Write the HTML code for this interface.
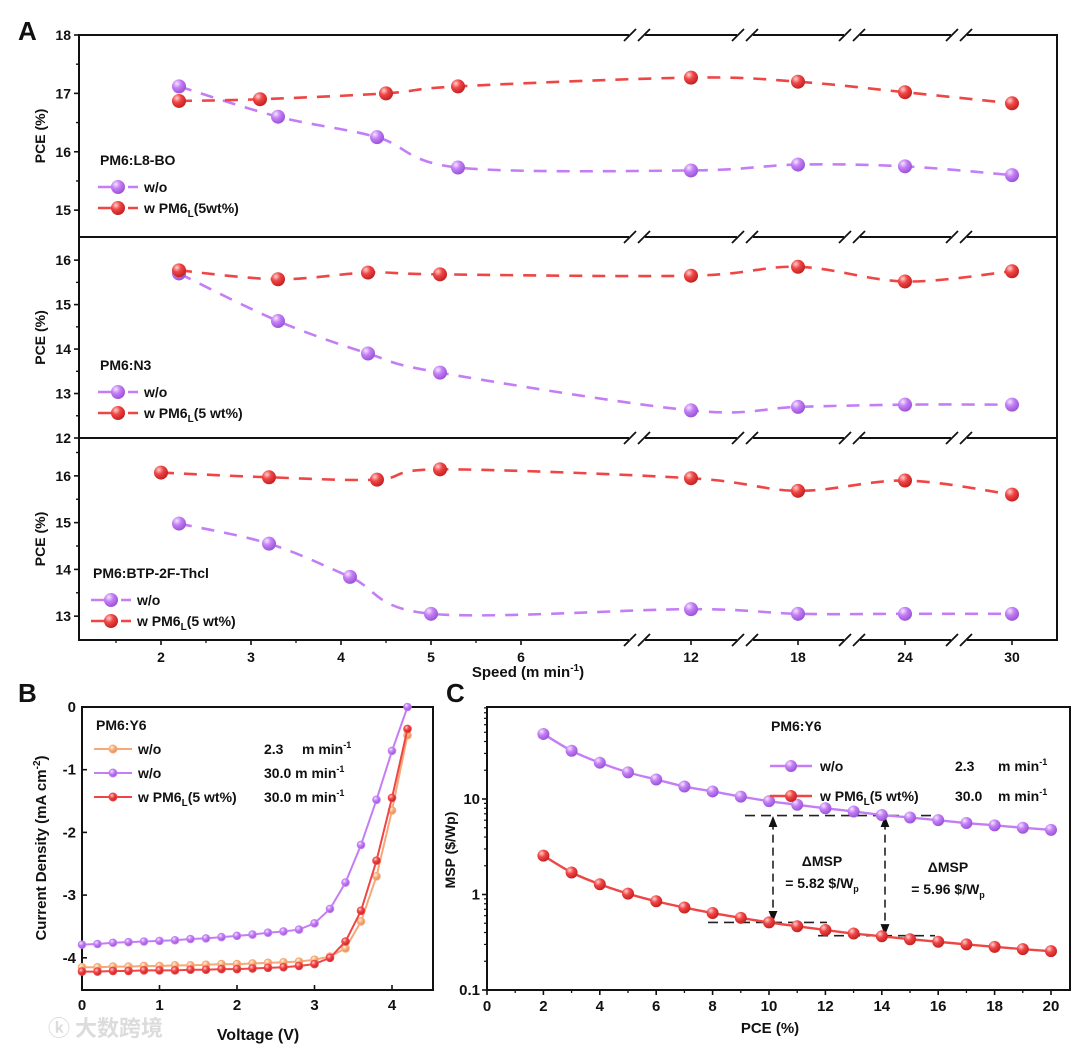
<!DOCTYPE html>
<html><head><meta charset="utf-8"><style>
html,body{margin:0;padding:0;background:#fff}
svg{display:block}
text{font-family:"Liberation Sans",Arial,sans-serif;font-weight:bold;fill:#111}
</style></head><body>
<svg id="fig" width="1080" height="1049" viewBox="0 0 1080 1049" xmlns="http://www.w3.org/2000/svg">
<defs>
<radialGradient id="gP" cx="0.35" cy="0.3" r="0.7"><stop offset="0" stop-color="#f4e6ff"/><stop offset="0.45" stop-color="#c47ef5"/><stop offset="1" stop-color="#9a55d8"/></radialGradient>
<radialGradient id="gR" cx="0.35" cy="0.3" r="0.7"><stop offset="0" stop-color="#ffd0d0"/><stop offset="0.45" stop-color="#f04545"/><stop offset="1" stop-color="#c42222"/></radialGradient>
<radialGradient id="gO" cx="0.35" cy="0.3" r="0.7"><stop offset="0" stop-color="#fff0e0"/><stop offset="0.5" stop-color="#f7b07a"/><stop offset="1" stop-color="#e58a50"/></radialGradient>
<marker id="arr" viewBox="0 0 10 10" refX="5" refY="5" markerWidth="7" markerHeight="7" orient="auto-start-reverse"><path d="M0,1 L10,5 L0,9 z" fill="#111"/></marker>
</defs>

<text x="18" y="40" font-size="26">A</text>
<text x="18" y="702" font-size="26">B</text>
<text x="446" y="702" font-size="26">C</text>

<g id="pa"></g>
<g id="pb"></g>
<g id="pc"></g>

<text x="528" y="677" font-size="15" text-anchor="middle">Speed (m min<tspan dy="-6" font-size="10">-1</tspan><tspan dy="6">)</tspan></text>
<text x="258" y="1040" font-size="16" text-anchor="middle">Voltage (V)</text>
<text x="770" y="1033" font-size="15" text-anchor="middle">PCE (%)</text>
<text transform="translate(46,848) rotate(-90)" font-size="15" text-anchor="middle">Current Density (mA cm<tspan dy="-6" font-size="10">-2</tspan><tspan dy="6">)</tspan></text>
<text transform="translate(455,850) rotate(-90)" font-size="14" text-anchor="middle">MSP ($/Wp)</text>
<text x="48" y="1036" font-size="22" fill="#ddd" style="fill:#dcdcdc;font-family:'Noto Sans CJK SC',sans-serif">ⓚ 大数跨境</text>
</svg>
<script>
// ---------- Panel A data ----------
const aX_L8_wo = [2.2,3.3,4.4,5.3,12,18,24,30];
const aY_L8_wo = [17.12,16.6,16.25,15.73,15.68,15.78,15.75,15.6];
const aX_L8_w = [2.2,3.1,4.5,5.3,12,18,24,30];
const aY_L8_w = [16.87,16.9,17.0,17.12,17.27,17.2,17.02,16.83];
const aX_N3_wo = [2.2,3.3,4.3,5.1,12,18,24,30];
const aY_N3_wo = [15.7,14.63,13.9,13.47,12.62,12.7,12.75,12.75];
const aX_N3_w = [2.2,3.3,4.3,5.1,12,18,24,30];
const aY_N3_w = [15.77,15.57,15.72,15.68,15.65,15.85,15.52,15.75];
const aX_BT_wo = [2.2,3.2,4.1,5.0,12,18,24,30];
const aY_BT_wo = [14.98,14.55,13.84,13.05,13.15,13.05,13.05,13.05];
const aX_BT_w = [2.0,3.2,4.4,5.1,12,18,24,30];
const aY_BT_w = [16.07,15.97,15.92,16.14,15.95,15.68,15.9,15.6];
const aTicksX1 = [2,3,4,5,6];
const aTicksX2 = [12,18,24,30];
// ---------- Panel B data ----------
const bV = [0,0.2,0.4,0.6,0.8,1.0,1.2,1.4,1.6,1.8,2.0,2.2,2.4,2.6,2.8,3.0,3.2,3.4,3.6,3.8,4.0,4.2];
const bJ_wo23 = [-4.15,-4.15,-4.14,-4.14,-4.13,-4.13,-4.12,-4.12,-4.11,-4.1,-4.1,-4.09,-4.08,-4.07,-4.06,-4.03,-3.98,-3.85,-3.42,-2.7,-1.65,-0.45];
const bJ_wo30 = [-3.79,-3.78,-3.76,-3.75,-3.74,-3.73,-3.72,-3.7,-3.69,-3.67,-3.65,-3.63,-3.6,-3.58,-3.55,-3.45,-3.22,-2.8,-2.2,-1.48,-0.7,0.0];
const bJ_w30 = [-4.22,-4.22,-4.21,-4.21,-4.2,-4.2,-4.2,-4.19,-4.19,-4.18,-4.18,-4.17,-4.16,-4.15,-4.13,-4.1,-4.0,-3.74,-3.25,-2.45,-1.45,-0.35];
const bTicksX = [0,1,2,3,4];
const bTicksY = [0,-1,-2,-3,-4];
// ---------- Panel C data ----------
const cPCE = [2,3,4,5,6,7,8,9,10,11,12,13,14,15,16,17,18,19,20];
const cMSP_wo = [48,32,24,19,16,13.5,12,10.6,9.5,8.7,8.0,7.4,6.8,6.4,6.0,5.6,5.3,5.0,4.75];
const cMSP_w = [2.55,1.7,1.28,1.02,0.85,0.73,0.64,0.57,0.51,0.465,0.425,0.39,0.365,0.34,0.32,0.30,0.283,0.268,0.255];
const cTicksX = [0,2,4,6,8,10,12,14,16,18,20];
const cTicksY = [0.1,1,10];

const NS="http://www.w3.org/2000/svg";
function mk(tag,attrs,parent){const e=document.createElementNS(NS,tag);for(const k in attrs)e.setAttribute(k,attrs[k]);parent.appendChild(e);return e;}
function smooth(p){if(p.length<2)return"";let d="M"+p[0][0]+","+p[0][1];for(let i=0;i<p.length-1;i++){const p0=p[i-1]||p[i],p1=p[i],p2=p[i+1],p3=p[i+2]||p2;const c1x=p1[0]+(p2[0]-p0[0])/6,c1y=p1[1]+(p2[1]-p0[1])/6,c2x=p2[0]-(p3[0]-p1[0])/6,c2y=p2[1]-(p3[1]-p1[1])/6;d+=" C"+c1x+","+c1y+" "+c2x+","+c2y+" "+p2[0]+","+p2[1];}return d;}
const PUR="#c47ef5",RED="#f04545",ORA="#f7a878";

// ================= Panel A =================
const pa=document.getElementById('pa');
const AL=79,AR=1057;
function xA(v){return v<=8?161+(v-2)*90:691+(v-12)/6*107;}
const panels=[{top:35,bot:237,min:14.54,max:18,ticks:[15,16,17,18]},{top:237,bot:438,min:12,max:16.52,ticks:[12,13,14,15,16]},{top:438,bot:640,min:12.49,max:16.81,ticks:[13,14,15,16]}];
const frame=mk('rect',{x:AL,y:35,width:AR-AL,height:605,fill:'none',stroke:'#111','stroke-width':2},pa);


[237,438].forEach(y=>{const l=mk('line',{x1:AL,x2:AR,y1:y,y2:y,stroke:'#111','stroke-width':2},pa);

});
// breaks
[35,237,438,640].forEach(y=>{[637,745,852,959].forEach(bx=>{
 const g=mk('g',{},pa);
 
 
 mk('rect',{x:bx-8,y:y-3,width:16,height:6,fill:'#fff'},g);
 mk('line',{x1:bx-13,y1:y+6,x2:bx-1,y2:y-6,stroke:'#111','stroke-width':1.8},g);
 mk('line',{x1:bx+1,y1:y+6,x2:bx+13,y2:y-6,stroke:'#111','stroke-width':1.8},g);
});});
const seriesA=[[aX_L8_wo,aY_L8_wo,aX_L8_w,aY_L8_w],[aX_N3_wo,aY_N3_wo,aX_N3_w,aY_N3_w],[aX_BT_wo,aY_BT_wo,aX_BT_w,aY_BT_w]];
panels.forEach((P,pi)=>{
 const yA=v=>P.bot-(v-P.min)/(P.max-P.min)*(P.bot-P.top);
 P.ticks.forEach(t=>{const y=yA(t);
  const tk=mk('line',{x1:AL-5,x2:AL,y1:y,y2:y,stroke:'#111','stroke-width':1.6},pa);
  
  
  const tx=mk('text',{x:AL-8,y:y+5,'font-size':14,'text-anchor':'end'},pa);tx.textContent=t;
  
  
  const ym=yA(t+0.5);if(ym>P.top+2&&ym<P.bot-2){const mt=mk('line',{x1:AL-3,x2:AL,y1:ym,y2:ym,stroke:'#111','stroke-width':1.4},pa);
  
  }
 });
 const yt=mk('text',{transform:`translate(45,${(P.top+P.bot)/2}) rotate(-90)`,'font-size':14,'text-anchor':'middle'},pa);yt.textContent='PCE (%)';
 
 
 const S=seriesA[pi];
 [[S[0],S[1],PUR,'gP','wo'],[S[2],S[3],RED,'gR','w']].forEach(([xs,ys,col,gr,nm])=>{
  const pts=xs.map((x,i)=>[xA(x),yA(ys[i])]);
  const ln=mk('path',{d:smooth(pts),fill:'none',stroke:col,'stroke-width':2.6,'stroke-dasharray':'13 10'},pa);
  
  
  pts.forEach(p=>{const c=mk('circle',{cx:p[0],cy:p[1],r:7,fill:`url(#${gr})`},pa);
   
   });
 });
});
aTicksX1.forEach(t=>{const x=xA(t);const tk=mk('line',{x1:x,x2:x,y1:640,y2:645,stroke:'#111','stroke-width':1.6},pa);
 
 
 const tx=mk('text',{x:x,y:662,'font-size':14,'text-anchor':'middle'},pa);tx.textContent=t;
 
 
 const xm=xA(t-0.5);if(xm>AL){const m=mk('line',{x1:xm,x2:xm,y1:640,y2:643,stroke:'#111','stroke-width':1.3},pa);
 
 }});
aTicksX2.forEach(t=>{const x=xA(t);const tk=mk('line',{x1:x,x2:x,y1:640,y2:645,stroke:'#111','stroke-width':1.6},pa);
 
 
 const tx=mk('text',{x:x,y:662,'font-size':14,'text-anchor':'middle'},pa);tx.textContent=t;
 
 });
// legends A
function legA(x,y,title,l1,l2,dash){
 const g=mk('g',{},pa);
 
 
 const t=mk('text',{x:x+2,y:y,'font-size':14},g);t.textContent=title;
 [[PUR,'gP',l1,y+22],[RED,'gR',l2,y+43]].forEach(([c,gr,lab,yy])=>{
  mk('line',{x1:x,x2:x+40,y1:yy,y2:yy,stroke:c,'stroke-width':2.6,'stroke-dasharray':dash},g);
  mk('circle',{cx:x+20,cy:yy,r:7,fill:`url(#${gr})`},g);
  const tt=mk('text',{x:x+46,y:yy+5,'font-size':14},g);tt.innerHTML=lab;
 });
}
legA(98,165,'PM6:L8-BO','w/o','w PM6<tspan dy="4" font-size="10">L</tspan><tspan dy="-4">(5wt%)</tspan>','14 4 8 4');
legA(98,370,'PM6:N3','w/o','w PM6<tspan dy="4" font-size="10">L</tspan><tspan dy="-4">(5 wt%)</tspan>','14 4 8 4');
legA(91,578,'PM6:BTP-2F-Thcl','w/o','w PM6<tspan dy="4" font-size="10">L</tspan><tspan dy="-4">(5 wt%)</tspan>','14 4 8 4');

// ================= Panel B =================
const pb=document.getElementById('pb');
const BL=82,BR=433,BT=707,BB=990;
const xB=v=>BL+v*77.5, yB=j=>BT-j*62.7;
const fb=mk('rect',{x:BL,y:BT,width:BR-BL,height:BB-BT,fill:'none',stroke:'#111','stroke-width':2},pb);


bTicksX.forEach(t=>{const x=xB(t);const tk=mk('line',{x1:x,x2:x,y1:BB,y2:BB-5,stroke:'#111','stroke-width':1.6},pb);
 
 
 const tx=mk('text',{x:x,y:BB+20,'font-size':15,'text-anchor':'middle'},pb);tx.textContent=t;
 
 });
bTicksY.forEach(t=>{const y=yB(t);const tk=mk('line',{x1:BL,x2:BL+5,y1:y,y2:y,stroke:'#111','stroke-width':1.6},pb);
 
 
 const tx=mk('text',{x:BL-6,y:y+5,'font-size':15,'text-anchor':'end'},pb);tx.textContent=t;
 
 });
[[bJ_wo23,ORA,'gO','wo-2.3'],[bJ_wo30,PUR,'gP','wo-30'],[bJ_w30,RED,'gR','w-30']].forEach(([js,c,gr,nm])=>{
 const pts=bV.map((v,i)=>[xB(v),yB(js[i])]);
 const ln=mk('polyline',{points:pts.map(p=>p.join(',')).join(' '),fill:'none',stroke:c,'stroke-width':2},pb);
 
 
 pts.forEach(p=>{const cc=mk('circle',{cx:p[0],cy:p[1],r:3.8,fill:`url(#${gr})`,stroke:c,'stroke-width':1},pb);
  
  });
});
(function(){
 const g=mk('g',{},pb);
 
 
 const t=mk('text',{x:96,y:730,'font-size':14},g);t.textContent='PM6:Y6';
 [[ORA,'gO','w/o','2.3','m min',749],[PUR,'gP','w/o','30.0 m min','',773],[RED,'gR','w PM6<tspan dy="4" font-size="10">L</tspan><tspan dy="-4">(5 wt%)</tspan>','30.0 m min','',797]].forEach(([c,gr,lab,sp,u,y])=>{
  mk('line',{x1:94,x2:132,y1:y,y2:y,stroke:c,'stroke-width':2},g);
  mk('circle',{cx:113,cy:y,r:4,fill:`url(#${gr})`,stroke:c},g);
  const a=mk('text',{x:138,y:y+5,'font-size':14},g);a.innerHTML=lab;
  const b=mk('text',{x:264,y:y+5,'font-size':14},g);
  b.innerHTML=u?sp+'<tspan x="302">'+u+'</tspan><tspan dy="-6" font-size="9">-1</tspan>':sp+'<tspan dy="-6" font-size="9">-1</tspan>';
 });
})();

// ================= Panel C =================
const pc=document.getElementById('pc');
const CL=487,CR=1070,CT=707,CB=990;
const xC=v=>CL+v*28.2, yC=m=>CB-(Math.log10(m)+1)*95.5;
const fc=mk('rect',{x:CL,y:CT,width:CR-CL,height:CB-CT,fill:'none',stroke:'#111','stroke-width':2},pc);


cTicksX.forEach(t=>{const x=xC(t);const tk=mk('line',{x1:x,x2:x,y1:CB,y2:CB+5,stroke:'#111','stroke-width':1.6},pc);
 
 
 const tx=mk('text',{x:x,y:CB+21,'font-size':15,'text-anchor':'middle'},pc);tx.textContent=t;
 
 
 if(t<20){const m=mk('line',{x1:xC(t+1),x2:xC(t+1),y1:CB,y2:CB+3,stroke:'#111','stroke-width':1.3},pc);
 
 }});
cTicksY.forEach(t=>{const y=yC(t);const tk=mk('line',{x1:CL-5,x2:CL,y1:y,y2:y,stroke:'#111','stroke-width':1.6},pc);
 
 
 const tx=mk('text',{x:CL-7,y:y+5,'font-size':15,'text-anchor':'end'},pc);tx.textContent=t;
 
 
 for(let k=2;k<=9;k++){const ym=yC(t*k);if(ym>CT){const m=mk('line',{x1:CL-3,x2:CL,y1:ym,y2:ym,stroke:'#111','stroke-width':1.2},pc);
 
 }}});
// annotation dashed lines
[[745,935,6.7],[708,827,0.51],[818,935,0.37]].forEach(([x1,x2,v])=>{const l=mk('line',{x1:x1,x2:x2,y1:yC(v),y2:yC(v),stroke:'#222','stroke-width':1.6,'stroke-dasharray':'10 6'},pc);
 
 });
[[773,6.7,0.51],[885,6.7,0.37]].forEach(([x,a,b])=>{const l=mk('line',{x1:x,x2:x,y1:yC(a)+6,y2:yC(b)-6,stroke:'#222','stroke-width':1.6,'stroke-dasharray':'8 5','marker-start':'url(#arr)','marker-end':'url(#arr)'},pc);
 
 });
[[cMSP_wo,PUR,'gP','wo'],[cMSP_w,RED,'gR','w']].forEach(([ms,c,gr,nm])=>{
 const pts=cPCE.map((v,i)=>[xC(v),yC(ms[i])]);
 const ln=mk('path',{d:smooth(pts),fill:'none',stroke:c,'stroke-width':2.4},pc);
 
 
 pts.forEach(p=>{const cc=mk('circle',{cx:p[0],cy:p[1],r:6,fill:`url(#${gr})`},pc);
  
  });
});
(function(){
 const g=mk('g',{},pc);
 
 
 const t=mk('text',{x:771,y:731,'font-size':14},g);t.textContent='PM6:Y6';
 [[PUR,'gP','w/o','2.3',766],[RED,'gR','w PM6<tspan dy="4" font-size="10">L</tspan><tspan dy="-4">(5 wt%)</tspan>','30.0',796]].forEach(([c,gr,lab,sp,y])=>{
  mk('line',{x1:770,x2:812,y1:y,y2:y,stroke:c,'stroke-width':2.4},g);
  mk('circle',{cx:791,cy:y,r:6,fill:`url(#${gr})`},g);
  const a=mk('text',{x:820,y:y+5,'font-size':14},g);a.innerHTML=lab;
  const b=mk('text',{x:955,y:y+5,'font-size':14},g);b.textContent=sp;
  const u=mk('text',{x:998,y:y+5,'font-size':14},g);u.innerHTML='m min<tspan dy="-6" font-size="9">-1</tspan>';
 });
 const a1=mk('text',{x:822,y:866,'font-size':14,'text-anchor':'middle'},g);a1.textContent='ΔMSP';
 const a2=mk('text',{x:822,y:888,'font-size':14,'text-anchor':'middle'},g);a2.innerHTML='= 5.82 $/W<tspan dy="4" font-size="9">p</tspan>';
 const a3=mk('text',{x:948,y:872,'font-size':14,'text-anchor':'middle'},g);a3.textContent='ΔMSP';
 const a4=mk('text',{x:948,y:894,'font-size':14,'text-anchor':'middle'},g);a4.innerHTML='= 5.96 $/W<tspan dy="4" font-size="9">p</tspan>';
})();
</script>
</body></html>
